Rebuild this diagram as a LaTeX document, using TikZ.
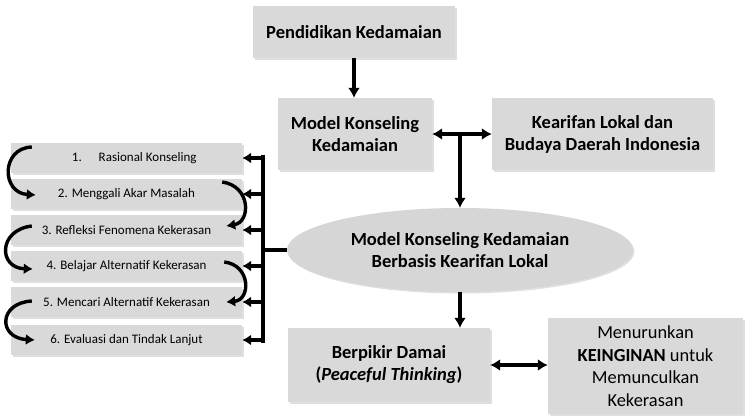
\documentclass[tikz,border=0pt]{standalone}
\usepackage{fontspec}
\setmainfont{Carlito}
\usetikzlibrary{arrows.meta,shadows,shapes.geometric,calc}
\begin{document}
\begin{tikzpicture}[x=1pt,y=-1pt,
  box/.style={fill=gray!30, drop shadow={shadow xshift=1.5pt, shadow yshift=-1.5pt, opacity=0.25}, align=center, inner sep=0pt},
  big/.style={font=\bfseries\fontsize{18.5}{22}\selectfont},
  small/.style={box, minimum width=231, minimum height=30, font=\fontsize{13}{15}\selectfont},
  arr/.style={line width=3.2pt, -{Latex[length=10pt,width=12pt]}},
  arrtwo/.style={line width=3.2pt, {Latex[length=10pt,width=12pt]}-{Latex[length=10pt,width=12pt]}},
  sarr/.style={line width=3.2pt, -{Latex[length=9pt,width=11pt]}},
  carr/.style={line width=3.4pt, -{Latex[length=9pt,width=11pt]}},
  bus/.style={line width=3.2pt}
]
\useasboundingbox (0,0) rectangle (745,416);

\node[box, big, minimum width=202, minimum height=52] (pk) at (354,32) {Pendidikan Kedamaian};
\node[box, big, minimum width=154, minimum height=72] (mk) at (355,134) {Model Konseling\\Kedamaian};
\node[box, big, minimum width=221, minimum height=72] (kl) at (602.5,134) {Kearifan Lokal dan\\Budaya Daerah Indonesia};
\node[ellipse, fill=gray!32, drop shadow={shadow xshift=1.5pt, shadow yshift=-1.5pt, opacity=0.25}, big, align=center, inner sep=0pt, minimum width=346, minimum height=84] (el) at (460,250) {Model Konseling Kedamaian\\Berbasis Kearifan Lokal};
\node[box, big, minimum width=202, minimum height=74] (bd) at (389,365) {Berpikir Damai\\(\textit{Peaceful Thinking})};
\node[box, minimum width=195, minimum height=96, font=\fontsize{18.4}{22.5}\selectfont] (mn) at (645.5,366) {Menurunkan\\\textbf{KEINGINAN} untuk\\Memunculkan\\Kekerasan};

\node[small] (b1) at (126.5,158) {\hspace{1.2em}1.\hspace{1.3em}Rasional Konseling};
\node[small] (b2) at (126.5,194) {2. Menggali Akar Masalah};
\node[small] (b3) at (126.5,230) {3. Refleksi Fenomena Kekerasan};
\node[small] (b4) at (126.5,266) {4. Belajar Alternatif Kekerasan};
\node[small] (b5) at (126.5,302) {5. Mencari Alternatif Kekerasan};
\node[small] (b6) at (126.5,340) {6. Evaluasi dan Tindak Lanjut};

% main arrows
\draw[arr] (pk.south) -- (pk.south |- mk.north);
\draw[arrtwo] (mk.east) -- (kl.west);
\coordinate (j) at (460,134);
\draw[arr] (j) -- (el.north);
\draw[arr] (el.south) -- (el.south |- bd.north);
\draw[arrtwo] (bd.east) -- (bd.east -| mn.west);

% bus
\coordinate (bt) at (263,157);
\coordinate (bb) at (263,341);
\draw[bus] (el.west) -- (el.west -| bt);
\draw[bus, line cap=rect] (bt) -- (bb);
\foreach \b in {b1,b2,b3,b4,b5,b6}{
  \draw[sarr] (\b.east -| bt) -- (\b.east);
}

% curved arrows
\draw[carr] ($(b1.west)+(21,-11)$) .. controls (1,148) and (1,193) .. ($(b2.west)+(25,1)$);
\draw[carr] ($(b2.east)+(-20,-12)$) .. controls (251,186) and (251,222) .. ($(b3.east)+(-16,-4)$);
\draw[carr] ($(b3.west)+(21,-4)$) .. controls (-2,230) and (-2,268) .. ($(b4.west)+(22,3)$);
\draw[carr] ($(b4.east)+(-18,-4)$) .. controls (251,265) and (251,300) .. ($(b5.east)+(-16,0)$);
\draw[carr] ($(b5.west)+(21,-1)$) .. controls (-2,303) and (-2,338) .. ($(b6.west)+(24,0)$);
\end{tikzpicture}
\end{document}
